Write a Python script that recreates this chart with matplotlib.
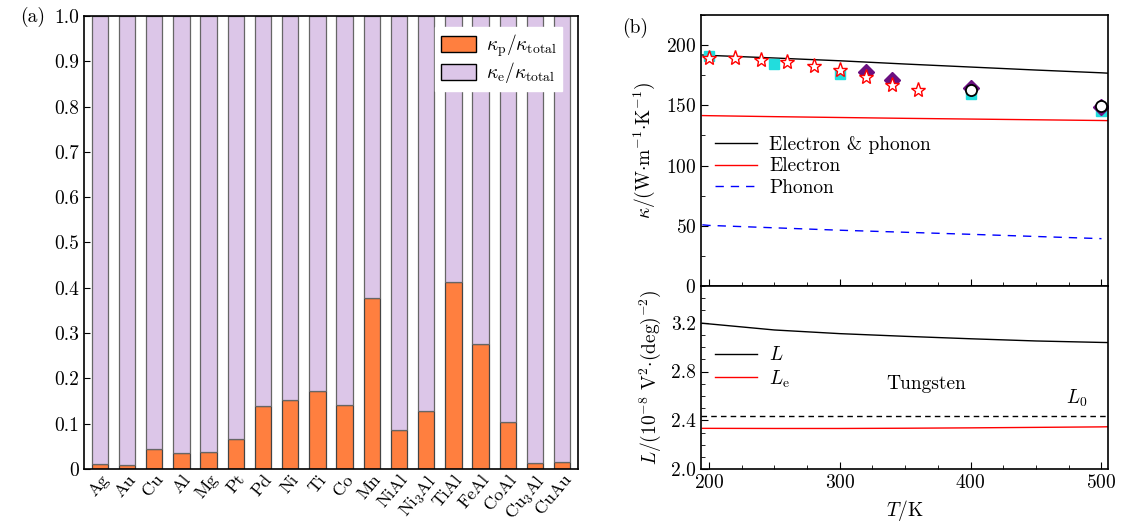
import matplotlib
matplotlib.use("Agg")
import matplotlib.pyplot as plt
import numpy as np
from matplotlib.ticker import MultipleLocator, FuncFormatter
from matplotlib.patches import Patch

plt.rcParams['font.family'] = 'serif'
plt.rcParams['font.serif'] = ['cmr10']
plt.rcParams['mathtext.fontset'] = 'cm'
plt.rcParams['axes.formatter.use_mathtext'] = True
plt.rcParams['font.size'] = 14

# ---- data (a)
materials = ["Ag", "Au", "Cu", "Al", "Mg", "Pt", "Pd", "Ni", "Ti", "Co", "Mn",
             "NiAl", "Ni$_3$Al", "TiAl", "FeAl", "CoAl", "Cu$_3$Al", "CuAu"]
kp_ratio = [0.011, 0.009, 0.045, 0.036, 0.037, 0.066, 0.139, 0.152, 0.172, 0.141,
            0.377, 0.085, 0.128, 0.413, 0.275, 0.104, 0.014, 0.016]

# ---- data (b) top
T_line = [195, 200, 250, 300, 350, 400, 450, 500, 505]
k_total = [191.8, 191.5, 189.3, 187.0, 184.3, 181.8, 179.3, 177.0, 176.7]
k_elec = [141.5, 141.4, 140.6, 139.9, 139.2, 138.6, 138.0, 137.4, 137.3]
T_ph = [195, 200, 250, 300, 350, 400, 450, 500]
k_phon = [50.8, 50.3, 48.3, 46.3, 44.6, 42.9, 41.1, 39.3]

T_sq = [200, 250, 300, 400, 500]
k_sq = [190.7, 184.0, 176.0, 159.0, 145.6]
T_star = [200, 220, 240, 260, 280, 300, 320, 340, 360]
k_star = [189.5, 189.0, 188.0, 186.0, 183.0, 179.0, 173.4, 167.0, 163.0]
T_dia = [320, 340, 400, 500]
k_dia = [178.0, 171.0, 164.5, 148.6]
T_circ = [400, 500]
k_circ = [163.0, 149.5]

# ---- data (b) bottom
T_L = [195, 200, 250, 300, 350, 400, 450, 500, 505]
L_tot = [3.195, 3.19, 3.14, 3.11, 3.088, 3.068, 3.05, 3.038, 3.037]
L_e = [2.335, 2.335, 2.334, 2.334, 2.336, 2.339, 2.343, 2.347, 2.348]
L0 = 2.44

fig = plt.figure(figsize=(11.34, 5.23), dpi=100)

# ---------------- panel (a)
ax = fig.add_axes([0.0741, 0.1033, 0.4356, 0.8661])
x = np.arange(len(materials))
ke_ratio = [1 - v for v in kp_ratio]
orange = '#ff7f3f'
lav = '#dcc6e8'
ax.bar(x, kp_ratio, width=0.6, color=orange, edgecolor='#444444', linewidth=0.9)
ax.bar(x, ke_ratio, width=0.6, bottom=kp_ratio, color=lav, edgecolor='#666666', linewidth=0.9)
ax.set_xlim(-0.58, 17.58)
ax.set_ylim(0, 1.0)
ax.yaxis.set_major_locator(MultipleLocator(0.1))
ax.yaxis.set_major_formatter(FuncFormatter(lambda v, p: "0" if abs(v) < 1e-9 else f"{v:.1f}"))
ax.set_xticks(x)
ax.set_xticklabels(materials, rotation=50, ha='right', rotation_mode='anchor')
ax.tick_params(axis='y', direction='in', length=4, labelsize=14)
ax.tick_params(axis='x', length=0, labelsize=13, pad=2)
for s in ax.spines.values():
    s.set_linewidth(1.2)
handles = [Patch(facecolor=orange, edgecolor='black', linewidth=1.0),
           Patch(facecolor=lav, edgecolor='black', linewidth=1.0)]
leg = ax.legend(handles, [r'$\kappa_{\rm p}/\kappa_{\rm total}$', r'$\kappa_{\rm e}/\kappa_{\rm total}$'],
                loc='upper right', bbox_to_anchor=(0.988, 0.997), fontsize=14,
                frameon=True, fancybox=False, framealpha=1.0, edgecolor='white',
                handlelength=1.8, handleheight=0.9, borderpad=0.3, labelspacing=0.05,
                handletextpad=0.5)
fig.text(0.018, 0.968, '(a)', fontsize=14, va='center')

# ---------------- panel (b) top
axt = fig.add_axes([0.6182, 0.4532, 0.3589, 0.5181])
axt.plot(T_line, k_total, color='black', lw=1.0, label='Electron & phonon')
axt.plot(T_line, k_elec, color='red', lw=1.0, label='Electron')
axt.plot(T_ph, k_phon, color='blue', lw=1.0, ls=(0, (6, 5)), label='Phonon')
axt.plot(T_sq, k_sq, ls='none', marker='s', ms=7, color='#22dddd', mec='#22dddd')
axt.plot(T_dia, k_dia, ls='none', marker='D', ms=8, color='#6a0f80', mec='#6a0f80')
axt.plot(T_star, k_star, ls='none', marker='*', ms=11, mfc='white', mec='red', mew=1.0)
axt.plot(T_circ, k_circ, ls='none', marker='o', ms=8, mfc='white', mec='black', mew=1.3)
axt.set_xlim(194, 505)
axt.set_ylim(0, 225)
axt.yaxis.set_major_locator(MultipleLocator(50))
axt.yaxis.set_minor_locator(MultipleLocator(25))
axt.xaxis.set_major_locator(MultipleLocator(100))
axt.xaxis.set_minor_locator(MultipleLocator(25))
axt.tick_params(which='both', direction='in', labelbottom=False)
axt.tick_params(which='major', length=5)
axt.tick_params(which='minor', length=3)
axt.set_ylabel(r'$\kappa/({\rm W{\cdot}m^{-1}{\cdot}K^{-1}})$', fontsize=14, labelpad=6)
axt.legend(loc='upper left', bbox_to_anchor=(0.0, 0.605), frameon=False, fontsize=14,
           handlelength=2.2, labelspacing=0.2, borderaxespad=0.3, handletextpad=0.6)
for s in axt.spines.values():
    s.set_linewidth(1.2)
fig.text(0.549, 0.947, '(b)', fontsize=14, va='center')

# ---------------- panel (b) bottom
axb = fig.add_axes([0.6182, 0.1027, 0.3589, 0.3505], sharex=axt)
axb.plot(T_L, L_tot, color='black', lw=1.0, label=r'$L$')
axb.plot(T_L, L_e, color='red', lw=1.0, label=r'$L_{\rm e}$')
axb.axhline(L0, color='black', lw=1.0, ls=(0, (4, 3)))
axb.set_ylim(2.0, 3.5)
axb.yaxis.set_major_locator(MultipleLocator(0.4))
axb.yaxis.set_minor_locator(MultipleLocator(0.1))
axb.yaxis.set_major_formatter(FuncFormatter(lambda v, p: f"{v:.1f}"))
axb.tick_params(which='both', direction='in')
axb.tick_params(which='major', length=5)
axb.tick_params(which='minor', length=3)
axb.tick_params(axis='x', labelbottom=True)
axb.set_ylabel(r'$L/(10^{-8}\ {\rm V^2{\cdot}(deg)^{-2}})$', fontsize=14, labelpad=6)
axb.set_xlabel(r'$T/{\rm K}$', fontsize=14)
axb.text(366, 2.70, 'Tungsten', ha='center', va='center', fontsize=14)
axb.text(481, 2.58, r'$L_0$', ha='center', va='center', fontsize=14)
axb.legend(loc='upper left', bbox_to_anchor=(0.0, 0.745), frameon=False, fontsize=14,
           handlelength=2.2, labelspacing=0.2, borderaxespad=0.3, handletextpad=0.6)
for s in axb.spines.values():
    s.set_linewidth(1.2)

fig.savefig('out.png', dpi=100)
